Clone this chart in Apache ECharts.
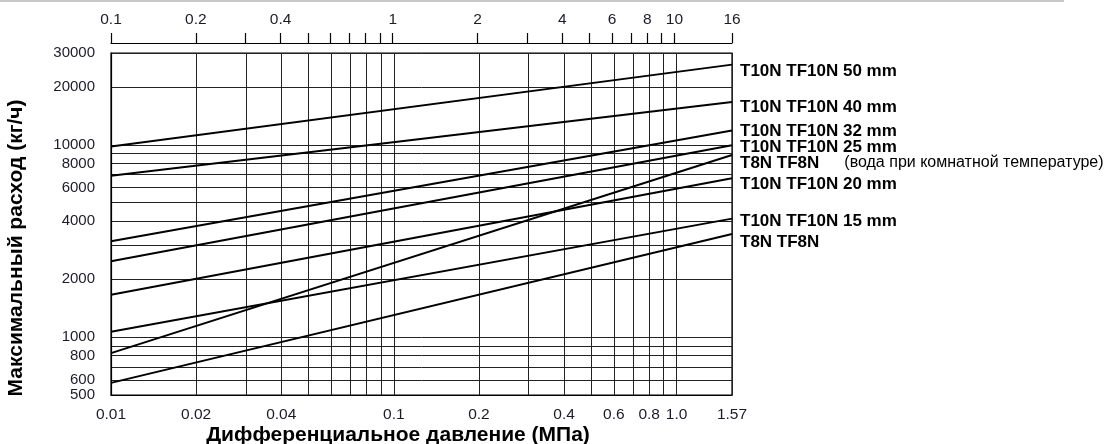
<!DOCTYPE html>
<html><head><meta charset="utf-8">
<script src="https://cdn.jsdelivr.net/npm/echarts@6/dist/echarts.min.js"></script>
<style>html,body{margin:0;padding:0;background:#fff}#c{width:1112px;height:444px}</style>
</head><body><div id="c"></div>
<script>
// ---- data ----
const xRange = [0.01, 1.57];          // МПа (bottom axis)
const topRange = [0.1, 16];           // upper scale
const yRange = [500, 30000];          // кг/ч
const seriesNames = ['T10N TF10N 50 mm', 'T10N TF10N 40 mm', 'T10N TF10N 32 mm', 'T10N TF10N 25 mm',
                     'T8N TF8N', 'T10N TF10N 20 mm', 'T10N TF10N 15 mm', 'T8N TF8N'];
const startValues = [9800, 6900, 3150, 2480, 825, 1660, 1065, 578];     // at 0.01 MPa
const endValues   = [26100, 16700, 11850, 9950, 8850, 6700, 4130, 3440]; // at 1.57 MPa
const noteText = '(вода при комнатной температуре)';
const noteSeriesIndex = 4;

const bottomGridValues = [0.01,0.02,0.03,0.04,0.05,0.06,0.07,0.08,0.09,0.1,0.2,0.3,0.4,0.5,0.6,0.7,0.8,0.9,1.0,1.57];
const bottomLabels = ['0.01','0.02','0.04','0.1','0.2','0.4','0.6','0.8','1.0','1.57'];
const topTickValues = [0.1,0.2,0.3,0.4,0.5,0.6,0.7,0.8,0.9,1,2,3,4,5,6,7,8,9,10,16];
const topLabels = ['0.1','0.2','0.4','1','2','4','6','8','10','16'];
const yGridValues = [500,600,700,800,900,1000,2000,3000,4000,5000,6000,7000,8000,9000,10000,20000,30000];
const yLabels = ['500','600','800','1000','2000','4000','6000','8000','10000','20000','30000'];

const xTitle = 'Дифференциальное давление (МПа)';
const yTitle = 'Максимальный расход (кг/ч)';

// ---- styles ----
const labelDy = [7, 5, 1, 2, 8, 6, 3, 8];
const FONT = '"Liberation Sans", Arial, Helvetica, sans-serif';
const TICK_COLOR = '#1b1b2b';

function labelFormatter(list) {
  return function (v) {
    for (const s of list) {
      if (Math.abs(Math.log10(parseFloat(s)) - Math.log10(v)) < 1e-6) return s;
    }
    return '';
  };
}
const num = a => a.map(s => parseFloat(s));

const series = seriesNames.map((name, i) => ({
  type: 'line',
  name: name,
  xAxisIndex: 0,
  yAxisIndex: 0,
  data: [[xRange[0], startValues[i]], [xRange[1], endValues[i]]],
  showSymbol: false,
  symbol: 'none',
  silent: true,
  lineStyle: { color: '#000', width: 2 },
  endLabel: {
    show: true,
    distance: 8,
    offset: [0, labelDy[i]],
    fontFamily: FONT,
    formatter: i === noteSeriesIndex ? '{b|' + name + '}{n|' + noteText + '}' : '{b|' + name + '}',
    rich: {
      b: { fontFamily: FONT, fontSize: 17, fontWeight: 'bold', color: '#000' },
      n: { fontFamily: FONT, fontSize: 16, fontWeight: 'normal', color: '#000', padding: [0, 0, 0, 25] }
    }
  }
}));

const chart = echarts.init(document.getElementById('c'), null, { renderer: 'canvas' });
chart.setOption({
  animation: false,
  backgroundColor: '#fff',
  textStyle: { fontFamily: FONT },
  graphic: [{
    type: 'line', shape: { x1: 0, y1: 1, x2: 1064, y2: 1 },
    style: { stroke: '#c8c8c8', lineWidth: 2 }, silent: true
  }],
  grid: {
    left: 111, right: 380, top: 53, bottom: 49,
    containLabel: false, outerBoundsMode: 'none',
    show: true, borderColor: '#000', borderWidth: 1.2, backgroundColor: 'transparent'
  },
  xAxis: [{
    type: 'log', logBase: 10, min: xRange[0], max: xRange[1], position: 'bottom',
    name: xTitle, nameLocation: 'middle', nameGap: 30, nameMoveOverlap: false,
    nameTextStyle: { fontFamily: FONT, fontSize: 21, fontWeight: 'bold', color: '#000', padding: [0, 47, 0, 0] },
    axisLine: { show: true, lineStyle: { color: '#000', width: 1.2 } },
    axisTick: { show: false, customValues: bottomGridValues },
    axisLabel: { customValues: num(bottomLabels), formatter: labelFormatter(bottomLabels), hideOverlap: false,
                 fontFamily: FONT, fontSize: 15.5, color: TICK_COLOR, margin: 12, showMinLabel: true, showMaxLabel: true },
    splitLine: { show: true, lineStyle: { color: '#222', width: 1 } }
  }, {
    type: 'log', logBase: 10, min: topRange[0], max: topRange[1], position: 'top', offset: 10, gridIndex: 0,
    axisLine: { show: true, lineStyle: { color: '#000', width: 1.2 } },
    axisTick: { show: true, length: 10, customValues: topTickValues, lineStyle: { color: '#000', width: 1.2 } },
    axisLabel: { customValues: num(topLabels), formatter: labelFormatter(topLabels), hideOverlap: false,
                 fontFamily: FONT, fontSize: 15.5, color: TICK_COLOR, margin: 15, showMinLabel: true, showMaxLabel: true },
    splitLine: { show: false }
  }],
  yAxis: [{
    type: 'log', logBase: 10, min: yRange[0], max: yRange[1],
    name: yTitle, nameLocation: 'middle', nameGap: 84, nameRotate: 90, nameMoveOverlap: false,
    nameTextStyle: { fontFamily: FONT, fontSize: 21, fontWeight: 'bold', color: '#000', padding: [0, 48, 0, 0] },
    axisLine: { show: true, lineStyle: { color: '#000', width: 1.2 } },
    axisTick: { show: false, customValues: yGridValues },
    axisLabel: { customValues: num(yLabels), formatter: labelFormatter(yLabels), hideOverlap: false,
                 fontFamily: FONT, fontSize: 15, color: TICK_COLOR, margin: 16, showMinLabel: true, showMaxLabel: true },
    splitLine: { show: true, lineStyle: { color: '#222', width: 1 } }
  }],
  series: series
});
</script>
</body></html>
